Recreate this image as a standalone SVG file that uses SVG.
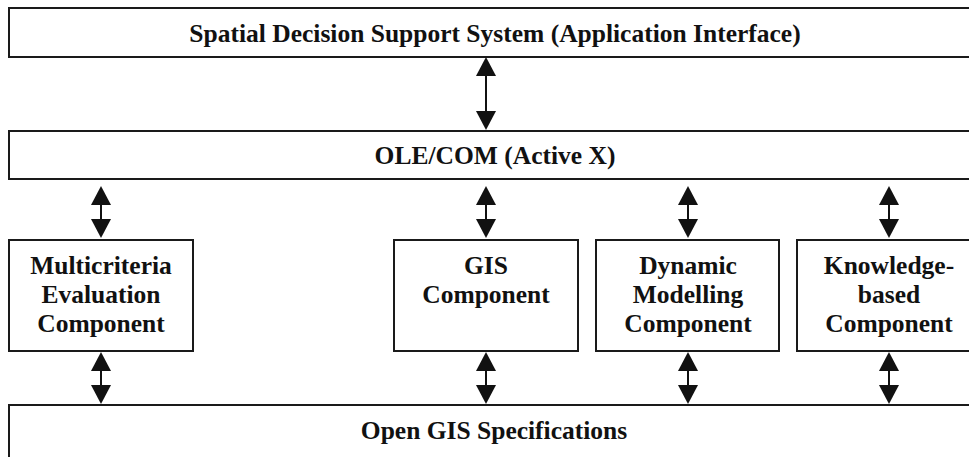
<svg xmlns="http://www.w3.org/2000/svg" width="969" height="457" viewBox="0 0 969 457">
  <style>
    .box { fill: #ffffff; stroke: #1a1a1a; stroke-width: 2; }
    .lbl { font-family: "Liberation Serif", "Times New Roman", serif; font-weight: bold; font-size: 25.5px; fill: #111111; text-anchor: middle; }
    .link { stroke: #111111; stroke-width: 2; fill: none; marker-start: url(#head); marker-end: url(#head); }
  </style>
  <defs>
    <marker id="head" viewBox="0 0 19 20" refX="16" refY="10" markerWidth="19" markerHeight="20" markerUnits="userSpaceOnUse" orient="auto-start-reverse">
      <path d="M0,0 L19,10 L0,20 Z" fill="#111111"/>
    </marker>
  </defs>
  <rect width="969" height="457" fill="#ffffff"/>

  <g id="sdss">
    <rect class="box" x="9" y="8" width="972" height="49"/>
    <text class="lbl" x="495" y="42">Spatial Decision Support System (Application Interface)</text>
  </g>

  <g id="olecom">
    <rect class="box" x="9" y="131" width="972" height="48"/>
    <text class="lbl" x="495" y="164">OLE/COM (Active X)</text>
  </g>

  <g id="mce">
    <rect class="box" x="9" y="240" width="184" height="111"/>
    <text class="lbl" x="101" y="274">Multicriteria</text>
    <text class="lbl" x="101" y="303">Evaluation</text>
    <text class="lbl" x="101" y="332">Component</text>
  </g>

  <g id="gis">
    <rect class="box" x="394" y="240" width="184" height="111"/>
    <text class="lbl" x="486" y="274">GIS</text>
    <text class="lbl" x="486" y="303">Component</text>
  </g>

  <g id="dynamic">
    <rect class="box" x="596" y="240" width="183" height="111"/>
    <text class="lbl" x="688" y="274">Dynamic</text>
    <text class="lbl" x="688" y="303">Modelling</text>
    <text class="lbl" x="688" y="332">Component</text>
  </g>

  <g id="knowledge">
    <rect class="box" x="797" y="240" width="184" height="111"/>
    <text class="lbl" x="889" y="274">Knowledge-</text>
    <text class="lbl" x="889" y="303">based</text>
    <text class="lbl" x="889" y="332">Component</text>
  </g>

  <g id="opengis">
    <rect class="box" x="9" y="405" width="972" height="70"/>
    <text class="lbl" x="494" y="439">Open GIS Specifications</text>
  </g>

  <g id="connectors">
    <line class="link" x1="486" y1="60" x2="486" y2="127"/>
    <line class="link" x1="101" y1="189" x2="101" y2="235"/>
    <line class="link" x1="486" y1="189" x2="486" y2="235"/>
    <line class="link" x1="688" y1="189" x2="688" y2="235"/>
    <line class="link" x1="889" y1="189" x2="889" y2="235"/>
    <line class="link" x1="101" y1="355" x2="101" y2="401"/>
    <line class="link" x1="486" y1="355" x2="486" y2="401"/>
    <line class="link" x1="688" y1="355" x2="688" y2="401"/>
    <line class="link" x1="889" y1="355" x2="889" y2="401"/>
  </g>
</svg>
